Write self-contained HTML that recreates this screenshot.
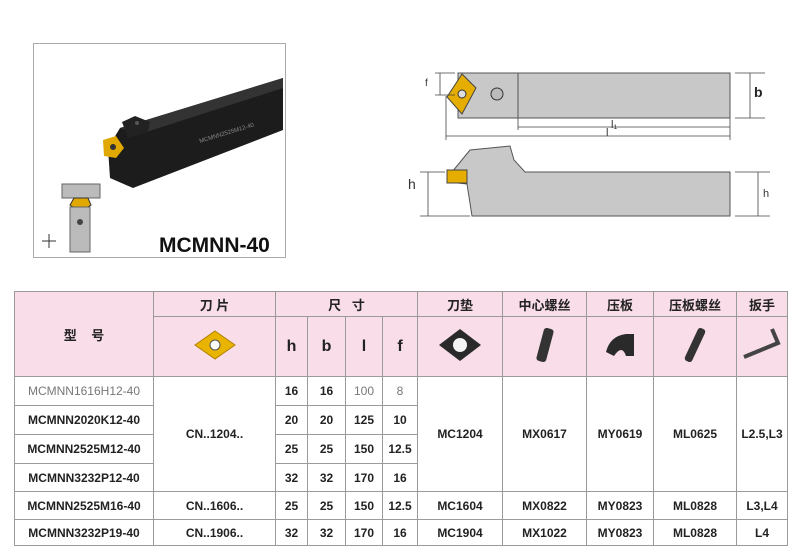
<!DOCTYPE html>
<html><head><meta charset="utf-8"><style>
body{margin:0;width:800px;height:552px;background:#fff;position:relative;overflow:hidden;font-family:"Liberation Sans","Noto Sans CJK SC",sans-serif}
table{position:absolute;left:14px;top:291px;border-collapse:collapse;table-layout:fixed}
td{border:1px solid #9a9a9a;text-align:center;font-size:12px;font-weight:bold;color:#222;padding:0}
.p{background:#f9dde8}
.hd{font-size:13px}
.big{font-size:16px}
</style></head><body>
<div style="position:absolute;left:33px;top:43px;width:251px;height:213px;border:1px solid #aaa"></div>
<svg width="800" height="552" style="position:absolute;left:0;top:0">
<polygon points="120,128 283,78 283,130 133,188 110,178 108,148" fill="#1c1c1c"/>
<polygon points="120,128 283,78 283,88 140,134" fill="#333"/>
<polygon points="122,122 135,116 150,122 148,132 128,138" fill="#222"/>
<circle cx="137" cy="123" r="2" fill="#555"/>
<polygon points="103,140 116,136 124,148 116,158 104,156" fill="#e0a800"/>
<circle cx="113" cy="147" r="3" fill="#333"/>
<text x="200" y="143" font-size="6" fill="#888" transform="rotate(-17 200 143)" font-family="Liberation Sans">MCMNN2525M12-40</text>
<rect x="62" y="184" width="38" height="14" fill="#bbb" stroke="#666"/>
<polygon points="74,198 88,198 91,205 80,212 70,205" fill="#e0a800" stroke="#333"/>
<rect x="70" y="207" width="20" height="45" fill="#bbb" stroke="#666"/>
<circle cx="80" cy="222" r="3" fill="#444"/>
<path d="M42 241h14M49 234v14" stroke="#333"/>
<text x="159" y="252" font-size="21" font-weight="bold" font-family="Liberation Sans" fill="#111">MCMNN-40</text>
<g stroke="#555" fill="#c8c8c8" stroke-width="1">
<rect x="518" y="73" width="212" height="45"/>
<polygon points="458,73 518,73 518,118 458,118"/>
<polygon points="452,172 470,150 510,146 514,160 525,172 730,172 730,216 472,216 467,184 448,182"/>
</g>
<polygon points="462,74 476,88 462,114 447,97" fill="#e5ad00" stroke="#444"/>
<circle cx="462" cy="94" r="4" fill="#ddd" stroke="#333"/>
<circle cx="497" cy="94" r="6" fill="#bbb" stroke="#333"/>
<rect x="447" y="170" width="20" height="13" fill="#e5ad00" stroke="#444"/>
<g stroke="#444" stroke-width="0.8" fill="none">
<path d="M518 127H730M446 136H730M446 96V140M518 118V130M730 118V140"/>
<path d="M735 73H765M735 118H765M750 73V118"/>
<path d="M735 172H770M735 216H770M758 172V216"/>
<path d="M435 73H455M435 95H455M440 73V95"/>
<path d="M420 216H470M420 172H445M428 172V216"/>
</g>
<text x="611" y="128" font-size="11" fill="#333">l₁</text><text x="606" y="136" font-size="11" fill="#333">l</text>
<text x="754" y="97" font-size="14" font-weight="bold" fill="#222">b</text>
<text x="763" y="197" font-size="11" fill="#333">h</text>
<text x="425" y="86" font-size="10" fill="#333">f</text>
<text x="408" y="189" font-size="14" fill="#333">h</text>
</svg>
<table>
<colgroup><col style="width:139px"><col style="width:122px"><col style="width:32px"><col style="width:38px"><col style="width:37px"><col style="width:35px"><col style="width:85px"><col style="width:84px"><col style="width:67px"><col style="width:83px"><col style="width:51px"></colgroup>
<tr style="height:25px"><td class="p hd" rowspan="2">型&nbsp;&nbsp;&nbsp;&nbsp;号</td><td class="p hd">刀 片</td><td class="p hd" colspan="4">尺&nbsp;&nbsp;&nbsp;寸</td><td class="p hd">刀垫</td><td class="p hd">中心螺丝</td><td class="p hd">压板</td><td class="p hd">压板螺丝</td><td class="p hd">扳手</td></tr>
<tr style="height:60px"><td class="p"><svg width="50" height="34"><polygon points="25,3 45,17 25,31 5,17" fill="#e8b400" stroke="#b08000"/><circle cx="25" cy="17" r="5" fill="#fff" stroke="#555"/></svg></td><td class="p big">h</td><td class="p big">b</td><td class="p big">l</td><td class="p big">f</td>
<td class="p"><svg width="50" height="40"><polygon points="25,4 46,20 25,36 4,20" fill="#2a2a2a"/><circle cx="25" cy="20" r="7" fill="#f4f4f4"/></svg></td>
<td class="p"><svg width="30" height="42"><rect x="10" y="4" width="10" height="34" rx="3" fill="#333" transform="rotate(15 15 21)"/></svg></td>
<td class="p"><svg width="36" height="30"><path d="M4 22Q8 6 24 4H32V26H24Q20 14 12 26Z" fill="#2a2a2a"/></svg></td>
<td class="p"><svg width="30" height="42"><rect x="11" y="3" width="8" height="36" rx="3" fill="#333" transform="rotate(25 15 21)"/></svg></td>
<td class="p"><svg width="44" height="40"><path d="M4 32L38 18L32 4" stroke="#444" stroke-width="4" fill="none"/></svg></td></tr>
<tr style="height:29px"><td style="font-weight:normal;color:#777">MCMNN1616H12-40</td><td rowspan="4">CN..1204..</td><td>16</td><td>16</td><td style="font-weight:normal;color:#777">100</td><td style="font-weight:normal;color:#777">8</td><td rowspan="4">MC1204</td><td rowspan="4">MX0617</td><td rowspan="4">MY0619</td><td rowspan="4">ML0625</td><td rowspan="4">L2.5,L3</td></tr>
<tr style="height:29px"><td>MCMNN2020K12-40</td><td>20</td><td>20</td><td>125</td><td>10</td></tr>
<tr style="height:29px"><td>MCMNN2525M12-40</td><td>25</td><td>25</td><td>150</td><td>12.5</td></tr>
<tr style="height:28px"><td>MCMNN3232P12-40</td><td>32</td><td>32</td><td>170</td><td>16</td></tr>
<tr style="height:28px"><td>MCMNN2525M16-40</td><td>CN..1606..</td><td>25</td><td>25</td><td>150</td><td>12.5</td><td>MC1604</td><td>MX0822</td><td>MY0823</td><td>ML0828</td><td>L3,L4</td></tr>
<tr style="height:26px"><td>MCMNN3232P19-40</td><td>CN..1906..</td><td>32</td><td>32</td><td>170</td><td>16</td><td>MC1904</td><td>MX1022</td><td>MY0823</td><td>ML0828</td><td>L4</td></tr>
</table>
</body></html>
